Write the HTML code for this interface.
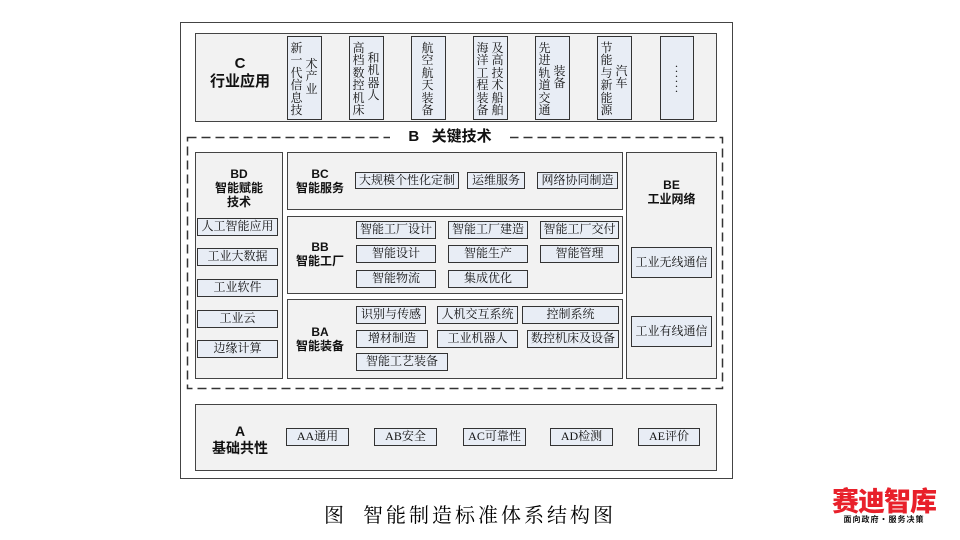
<!DOCTYPE html>
<html><head><meta charset="utf-8"><style>
body{margin:0;width:960px;height:540px;background:#fff;position:relative;overflow:hidden;font-family:"Liberation Serif","Noto Serif CJK SC",serif;color:#111}
div{position:absolute;box-sizing:border-box}
.p{background:#f2f2f2;border:1.5px solid #444}
.b{background:#e8edf5;border:1.5px solid #333;font-size:12px;text-align:center;line-height:15px}
.col{font-size:12px;line-height:12.4px;width:13px;text-align:center}
.lab{font-family:"Liberation Sans","Noto Sans CJK SC",sans-serif;font-weight:bold;text-align:center;font-size:12px;line-height:14px}
</style></head><body>
<div style="left:180px;top:22px;width:553px;height:457px;border:1.5px solid #444"></div>
<!-- C -->
<div class="p" style="left:195px;top:33px;width:522px;height:89px"></div>
<div class="lab" style="left:200px;top:55px;width:80px;font-size:15px;line-height:18px">C<br>行业应用</div>
<div class="b" style="left:287px;top:36px;width:35px;height:84px"></div>
<div class="col" style="left:290px;top:42px">新<br>一<br>代<br>信<br>息<br>技</div>
<div class="col" style="left:305px;top:58px">术<br>产<br>业</div>
<div class="b" style="left:349px;top:36px;width:35px;height:84px"></div>
<div class="col" style="left:352px;top:42px">高<br>档<br>数<br>控<br>机<br>床</div>
<div class="col" style="left:367px;top:52px">和<br>机<br>器<br>人</div>
<div class="b" style="left:411px;top:36px;width:35px;height:84px"></div>
<div class="col" style="left:421px;top:42px">航<br>空<br>航<br>天<br>装<br>备</div>
<div class="b" style="left:473px;top:36px;width:35px;height:84px"></div>
<div class="col" style="left:476px;top:42px">海<br>洋<br>工<br>程<br>装<br>备</div>
<div class="col" style="left:491px;top:42px">及<br>高<br>技<br>术<br>船<br>舶</div>
<div class="b" style="left:535px;top:36px;width:35px;height:84px"></div>
<div class="col" style="left:538px;top:42px">先<br>进<br>轨<br>道<br>交<br>通</div>
<div class="col" style="left:553px;top:65px">装<br>备</div>
<div class="b" style="left:597px;top:36px;width:35px;height:84px"></div>
<div class="col" style="left:600px;top:42px">节<br>能<br>与<br>新<br>能<br>源</div>
<div class="col" style="left:615px;top:65px">汽<br>车</div>
<div class="b" style="left:660px;top:36px;width:34px;height:84px"></div>
<div class="col" style="left:670px;top:64px;line-height:5px;font-size:12px">·<br>·<br>·<br>·<br>·<br>·</div>
<!-- B dashed -->
<svg style="position:absolute;left:0;top:0" width="960" height="540"><rect x="187.5" y="137.5" width="535" height="251" fill="none" stroke="#333" stroke-width="1.5" stroke-dasharray="9,5"/></svg>
<div class="lab" style="left:390px;top:129px;width:120px;background:#fff;font-size:15px;line-height:16px">B &nbsp;&nbsp;关键技术</div>
<!-- BD -->
<div class="p" style="left:195px;top:152px;width:88px;height:227px"></div>
<div class="lab" style="left:195px;top:167px;width:88px">BD<br>智能赋能<br>技术</div>
<div class="b" style="left:197px;top:218px;width:81px;height:18px">人工智能应用</div>
<div class="b" style="left:197px;top:248px;width:81px;height:18px">工业大数据</div>
<div class="b" style="left:197px;top:279px;width:81px;height:18px">工业软件</div>
<div class="b" style="left:197px;top:310px;width:81px;height:18px">工业云</div>
<div class="b" style="left:197px;top:340px;width:81px;height:18px">边缘计算</div>
<!-- BE -->
<div class="p" style="left:626px;top:152px;width:91px;height:227px"></div>
<div class="lab" style="left:626px;top:178px;width:91px">BE<br>工业网络</div>
<div class="b" style="left:631px;top:247px;width:81px;height:31px;line-height:28px">工业无线通信</div>
<div class="b" style="left:631px;top:316px;width:81px;height:31px;line-height:28px">工业有线通信</div>
<!-- BC -->
<div class="p" style="left:287px;top:152px;width:336px;height:58px"></div>
<div class="lab" style="left:292px;top:167px;width:56px">BC<br>智能服务</div>
<div class="b" style="left:355px;top:172px;width:104px;height:17px">大规模个性化定制</div>
<div class="b" style="left:467px;top:172px;width:58px;height:17px">运维服务</div>
<div class="b" style="left:537px;top:172px;width:81px;height:17px">网络协同制造</div>
<!-- BB -->
<div class="p" style="left:287px;top:216px;width:336px;height:78px"></div>
<div class="lab" style="left:292px;top:240px;width:56px">BB<br>智能工厂</div>
<div class="b" style="left:356px;top:221px;width:80px;height:18px">智能工厂设计</div>
<div class="b" style="left:448px;top:221px;width:80px;height:18px">智能工厂建造</div>
<div class="b" style="left:540px;top:221px;width:79px;height:18px">智能工厂交付</div>
<div class="b" style="left:356px;top:245px;width:80px;height:18px">智能设计</div>
<div class="b" style="left:448px;top:245px;width:80px;height:18px">智能生产</div>
<div class="b" style="left:540px;top:245px;width:79px;height:18px">智能管理</div>
<div class="b" style="left:356px;top:270px;width:80px;height:18px">智能物流</div>
<div class="b" style="left:448px;top:270px;width:80px;height:18px">集成优化</div>
<!-- BA -->
<div class="p" style="left:287px;top:299px;width:336px;height:80px"></div>
<div class="lab" style="left:292px;top:325px;width:56px">BA<br>智能装备</div>
<div class="b" style="left:356px;top:306px;width:70px;height:18px">识别与传感</div>
<div class="b" style="left:437px;top:306px;width:81px;height:18px">人机交互系统</div>
<div class="b" style="left:522px;top:306px;width:97px;height:18px">控制系统</div>
<div class="b" style="left:356px;top:330px;width:72px;height:18px">增材制造</div>
<div class="b" style="left:437px;top:330px;width:81px;height:18px">工业机器人</div>
<div class="b" style="left:527px;top:330px;width:92px;height:18px">数控机床及设备</div>
<div class="b" style="left:356px;top:353px;width:92px;height:18px">智能工艺装备</div>
<!-- A -->
<div class="p" style="left:195px;top:404px;width:522px;height:67px"></div>
<div class="lab" style="left:200px;top:423px;width:80px;font-size:14px;line-height:17px">A<br>基础共性</div>
<div class="b" style="left:286px;top:428px;width:63px;height:18px">AA通用</div>
<div class="b" style="left:374px;top:428px;width:63px;height:18px">AB安全</div>
<div class="b" style="left:463px;top:428px;width:63px;height:18px">AC可靠性</div>
<div class="b" style="left:550px;top:428px;width:63px;height:18px">AD检测</div>
<div class="b" style="left:638px;top:428px;width:62px;height:18px">AE评价</div>
<!-- caption -->
<div style="left:290px;top:503px;width:360px;text-align:center;font-size:20px;letter-spacing:3px;line-height:26px;color:#000">图&nbsp;&nbsp;智能制造标准体系结构图</div>
<div style="left:826px;top:485px;width:116px;font-family:'Noto Sans CJK SC',sans-serif;font-weight:900;color:#e8202a;font-size:27px;line-height:30px;letter-spacing:-1px;text-align:center">赛迪智库</div>
<div style="left:826px;top:515px;width:116px;font-family:'Noto Sans CJK SC',sans-serif;font-weight:bold;font-size:8px;line-height:10px;text-align:center;letter-spacing:1px">面向政府·服务决策</div>
</body></html>
